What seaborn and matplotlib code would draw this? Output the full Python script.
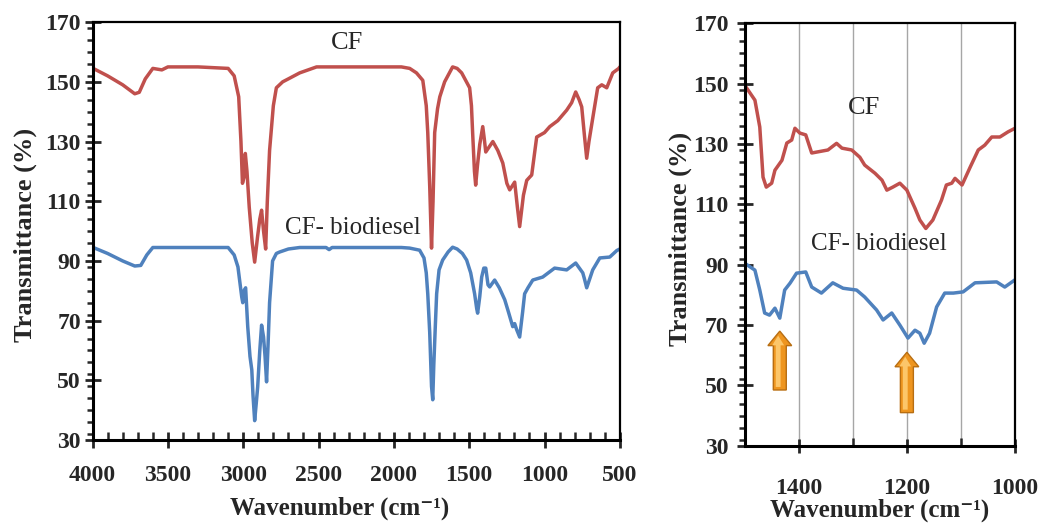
import numpy as np
import pandas as pd
import matplotlib.pyplot as plt
import seaborn as sns
from matplotlib.ticker import MultipleLocator, FixedLocator
from matplotlib.patches import FancyArrow

# ---- full range spectra (left panel) ----
wn_cf = [4000, 3900, 3800, 3720, 3690, 3650, 3600, 3540, 3500, 3300, 3100, 3060, 3030,
         3015, 3005, 2995, 2986, 2975, 2960, 2940, 2924, 2905, 2890, 2878, 2865, 2851,
         2840, 2825, 2800, 2780, 2738, 2700, 2625, 2513, 2300, 2200, 1950, 1895, 1850,
         1808, 1785, 1775, 1762, 1750, 1740, 1729, 1710, 1695, 1663, 1610, 1580, 1550,
         1497, 1485, 1477, 1465, 1457, 1445, 1430, 1410, 1400, 1390, 1370, 1343, 1310,
         1277, 1250, 1231, 1198, 1180, 1165, 1140, 1118, 1085, 1052, 1000, 965, 912,
         853, 820, 793, 770, 753, 735, 720, 705, 680, 647, 620, 587, 547, 507, 500]
t_cf = [154.6, 152, 149, 146, 146.5, 151, 154.5, 154, 155, 155, 154.5, 152, 145,
        130, 116, 118, 126, 120, 108, 96, 89.6, 98, 104, 107, 100, 94,
        110, 127, 142, 148, 150, 151, 153, 155, 155, 155, 155, 154.5, 153,
        150.5, 142, 133, 115, 94.3, 110, 133, 141, 145, 150, 155, 154.5, 153,
        148, 142, 132.8, 120, 115.4, 122, 129, 135, 131, 126.5, 128, 130, 127,
        122.8, 116, 113.8, 116.4, 108, 101.5, 112, 117, 118.8, 131.5, 133, 135, 137,
        140.5, 143, 146.6, 144, 141.6, 132, 124.4, 130, 137.8, 148, 149, 148, 153, 154.5, 155]

wn_bd = [4000, 3900, 3800, 3720, 3680, 3640, 3600, 3500, 3100, 3060, 3035, 3024, 3010,
         3003, 2995, 2984, 2970, 2955, 2943, 2935, 2924, 2914, 2904, 2890, 2878, 2865,
         2855, 2845, 2835, 2825, 2805, 2780, 2758, 2700, 2625, 2450, 2430, 2410, 1950,
         1895, 1829, 1800, 1785, 1775, 1762, 1750, 1742, 1735, 1725, 1716, 1700, 1676,
         1640, 1610, 1580, 1545, 1517, 1490, 1464, 1450, 1444, 1430, 1417, 1403, 1390,
         1375, 1364, 1331, 1300, 1264, 1240, 1211, 1198, 1185, 1165, 1145, 1132, 1110,
         1078, 1012, 933, 853, 793, 746, 735, 720, 700, 680, 633, 567, 520, 500]
t_bd = [94.6, 92.5, 90, 88.3, 88.5, 92, 94.5, 94.5, 94.5, 92, 88, 83.6, 78,
        76, 80, 81, 68, 58, 53.5, 45, 36.5, 42, 47.8, 60, 68.5, 64.5,
        58, 49.5, 62, 76, 90, 92.5, 93, 94, 94.5, 94.5, 93.8, 94.5, 94.5,
        94.3, 93.6, 91, 86, 79, 66, 48, 43.5, 55, 68, 79, 87, 90.3,
        93, 94.6, 94, 92.5, 90.3, 86, 79, 74, 72.5, 78, 84.6, 87.6, 87.6,
        82, 81.3, 83.6, 81, 77, 73, 68, 69, 67, 64.5, 73, 79, 81,
        83.6, 84.6, 87.6, 87, 89.3, 86, 84, 81, 84, 87, 91, 91.3, 93.5, 94]

# ---- zoomed 1500-1000 region (right panel) ----
wn_cf_z = [1500, 1481, 1472, 1466, 1460, 1450, 1444, 1431, 1422, 1413, 1407, 1398, 1387,
           1376, 1367, 1346, 1330, 1320, 1302, 1287, 1278, 1259, 1246, 1237, 1226, 1213,
           1200, 1185, 1176, 1165, 1152, 1136, 1127, 1117, 1111, 1098, 1083, 1068, 1056,
           1043, 1028, 1013, 1000]
t_cf_z = [149.5, 144.5, 135.6, 119, 115.7, 117, 121.3, 124.6, 130.3, 131.3, 135.2, 133.6, 133,
          127, 127.3, 128, 130.2, 128.6, 128, 125.6, 123, 120.3, 118, 114.7, 115.7, 117,
          114.7, 108.7, 104.8, 102, 104.8, 111.4, 116.4, 117, 118.6, 116.4, 122.3, 128, 129.6,
          132.3, 132.3, 134, 135.2]

wn_bd_z = [1500, 1481, 1472, 1463, 1454, 1444, 1435, 1426, 1416, 1404, 1387, 1376, 1358,
           1337, 1318, 1293, 1278, 1256, 1244, 1228, 1213, 1198, 1185, 1176, 1168, 1158,
           1145, 1130, 1114, 1096, 1074, 1034, 1019, 1000]
t_bd_z = [90.5, 88.2, 81.6, 74, 73.3, 75.6, 72.3, 81.6, 83.9, 87.2, 87.6, 82.6, 80.6,
          84, 82.2, 81.6, 79.3, 75, 71.7, 74, 70, 65.7, 68.3, 67.3, 64, 67.3,
          76, 80.6, 80.6, 81, 84, 84.3, 82.6, 85]

# arrows marking bands of interest (right panel)
arrow_wn = [1435, 1200]
arrow_tail = [48.5, 41]
arrow_head = [68, 61]

red = "#C0504D"
blue = "#4F81BD"

sns.set_style("ticks")
plt.rcParams['font.family'] = ['Liberation Serif', 'DejaVu Serif']

fig = plt.figure(figsize=(10.4, 5.27), dpi=100)
ax1 = fig.add_axes([0.089, 0.165, 0.507, 0.793])
ax2 = fig.add_axes([0.716, 0.154, 0.260, 0.802])

df_full = pd.concat([
    pd.DataFrame({"wn": wn_cf, "T": t_cf, "s": "CF"}),
    pd.DataFrame({"wn": wn_bd, "T": t_bd, "s": "CF- biodiesel"}),
])
df_zoom = pd.concat([
    pd.DataFrame({"wn": wn_cf_z, "T": t_cf_z, "s": "CF"}),
    pd.DataFrame({"wn": wn_bd_z, "T": t_bd_z, "s": "CF- biodiesel"}),
])
pal = {"CF": red, "CF- biodiesel": blue}

sns.lineplot(data=df_full, x="wn", y="T", hue="s", palette=pal, lw=2.5,
             legend=False, ax=ax1, estimator=None, sort=False)
sns.lineplot(data=df_zoom, x="wn", y="T", hue="s", palette=pal, lw=2.5,
             legend=False, ax=ax2, estimator=None, sort=False)

for ax in (ax1, ax2):
    ax.set_ylim(30, 170)
    ax.yaxis.set_major_locator(FixedLocator(range(30, 171, 20)))
    ax.yaxis.set_minor_locator(MultipleLocator(4))
    for sp in ax.spines.values():
        sp.set_visible(True)
        sp.set_color("black")
        sp.set_linewidth(1.6)
    ax.spines['left'].set_linewidth(2.2)
    ax.spines['bottom'].set_linewidth(2.2)
    ax.tick_params(axis='y', which='major', direction='inout', length=11, width=2,
                   labelsize=17, pad=3)
    ax.tick_params(axis='y', which='minor', direction='out', length=4, width=1.8)
    ax.tick_params(axis='x', which='major', direction='inout', length=12, width=2,
                   labelsize=17)
    ax.tick_params(axis='x', which='minor', direction='in', length=6, width=1.8)
    ax.set_ylabel("Transmittance (%)", fontsize=19, fontweight='bold')
    ax.set_xlabel("Wavenumber (cm\u207b\u00b9)", fontsize=18, fontweight='bold')

ax1.set_xlim(4000, 500)
ax1.xaxis.set_major_locator(MultipleLocator(500))
ax1.xaxis.set_minor_locator(MultipleLocator(100))
ax1.tick_params(axis='x', which='major', pad=12)
ax1.yaxis.set_label_coords(-0.105, 0.49)
ax1.xaxis.set_label_coords(0.469, -0.135)

ax2.set_xlim(1500, 1000)
ax2.xaxis.set_major_locator(FixedLocator([1400, 1200, 1000]))
ax2.xaxis.set_minor_locator(FixedLocator([1300, 1100]))
ax2.tick_params(axis='x', which='major', length=10, pad=18)
ax2.tick_params(axis='y', which='major', pad=6)
ax2.grid(axis='x', which='both', color='#A6A6A6', lw=1)
ax2.set_axisbelow(True)
ax2.yaxis.set_label_coords(-0.196, 0.49)
ax2.xaxis.labelpad = 0

for ax in (ax1, ax2):
    for lab in ax.get_xticklabels() + ax.get_yticklabels():
        lab.set_fontweight('bold')

ax1.text(2313, 163, "CF", fontsize=19, ha='center', va='center')
ax1.text(2274, 101, "CF- biodiesel", fontsize=18, ha='center', va='center')
ax2.text(1280, 142, "CF", fontsize=19, ha='center', va='center')
ax2.text(1252, 97, "CF- biodiesel", fontsize=18, ha='center', va='center')

for x, t0, t1 in zip(arrow_wn, arrow_tail, arrow_head):
    ax2.add_patch(FancyArrow(x, t0, 0, t1 - t0, width=24, head_width=44,
                             head_length=4.8, length_includes_head=True,
                             facecolor="#EE951F", edgecolor="#B86E12", lw=1, zorder=5))
    ax2.add_patch(FancyArrow(x + 3, t0 + 1, 0, t1 - t0 - 2.5, width=9, head_width=22,
                             head_length=3.2, length_includes_head=True,
                             facecolor="#FCC66A", edgecolor="none", zorder=6))

fig.savefig("out.png", dpi=100)
